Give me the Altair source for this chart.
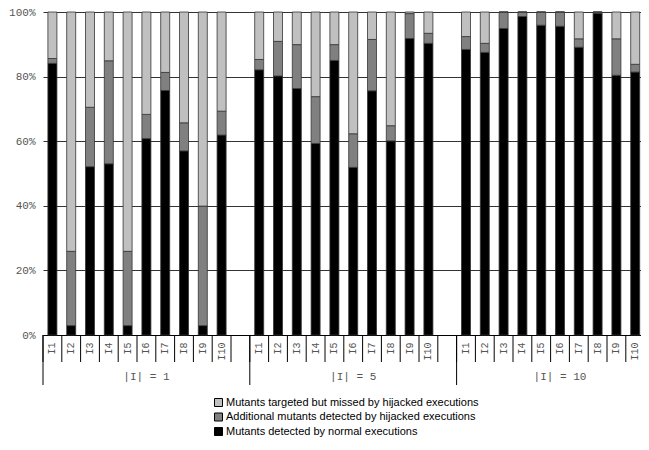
import altair as alt
import pandas as pd

groups = ["1", "5", "10"]
items = ["I1", "I2", "I3", "I4", "I5", "I6", "I7", "I8", "I9", "I10"]
series = [
    "Mutants targeted but missed by hijacked executions",
    "Additional mutants detected by hijacked executions",
    "Mutants detected by normal executions",
]
colors = ["#c0c0c0", "#808080", "#000000"]

# percentages per group: normal / additional / missed
normal_g1 = [84.1, 2.9, 52.1, 53.0, 2.9, 60.8, 75.7, 57.0, 2.9, 61.9]
additional_g1 = [1.5, 23.0, 18.4, 31.9, 23.0, 7.5, 5.6, 8.7, 37.0, 7.4]
missed_g1 = [14.4, 74.1, 29.5, 15.1, 74.1, 31.7, 18.7, 34.3, 60.1, 30.7]

normal_g5 = [82.1, 80.2, 76.3, 59.3, 85.0, 51.9, 75.6, 60.1, 91.8, 90.3]
additional_g5 = [3.2, 10.7, 13.6, 14.5, 4.9, 10.4, 15.9, 4.7, 7.7, 3.1]
missed_g5 = [14.7, 9.1, 10.1, 26.2, 10.1, 37.7, 8.5, 35.2, 0.5, 6.6]

normal_g10 = [88.4, 87.5, 94.9, 98.6, 95.9, 95.6, 89.1, 99.6, 80.4, 81.4]
additional_g10 = [4.0, 2.8, 5.1, 1.4, 4.1, 4.4, 2.6, 0.4, 11.3, 2.4]
missed_g10 = [7.6, 9.7, 0.0, 0.0, 0.0, 0.0, 8.3, 0.0, 8.3, 16.2]

group_data = {
    "1": (normal_g1, additional_g1, missed_g1),
    "5": (normal_g5, additional_g5, missed_g5),
    "10": (normal_g10, additional_g10, missed_g10),
}

# slot ids (with one blank spacer slot between groups)
slots = []
for gi, g in enumerate(groups):
    for it in items:
        slots.append(f"{g}|{it}")
    if gi < len(groups) - 1:
        slots.append(f"{g}|")

rows = []
for g in groups:
    normal, additional, missed = group_data[g]
    for i, it in enumerate(items):
        sid = f"{g}|{it}"
        rows.append({"slot": sid, "series": series[2], "value": normal[i], "ord": 0})
        rows.append({"slot": sid, "series": series[1], "value": additional[i], "ord": 1})
        rows.append({"slot": sid, "series": series[0], "value": missed[i], "ord": 2})
df = pd.DataFrame(rows)

slots_df = pd.DataFrame({"slot": slots})
starts_df = pd.DataFrame({"slot": [f"{g}|I1" for g in groups]})
labels_df = pd.DataFrame({"slot": [f"{g}|I6" for g in groups],
                          "label": [f"|I| = {g}" for g in groups]})

H = 323
W = 598
MONO = "Liberation Mono"

xscale = alt.Scale(domain=slots, range=[0, 601.6], paddingInner=0, paddingOuter=0)
xaxis = alt.Axis(title=None, labelAngle=270, ticks=False, tickSize=0,
                 labelPadding=7, labelFont=MONO, labelFontSize=10,
                 labelColor="#555555", domainColor="#000000", labelOverlap=False,
                 labelExpr="split(datum.label, '|')[1]", grid=False)

bars = alt.Chart(df).mark_bar(width=9, stroke="#333333", strokeWidth=0.8).encode(
    x=alt.X("slot:N", scale=xscale, sort=slots, axis=xaxis),
    y=alt.Y("value:Q", stack="normalize",
            scale=alt.Scale(domain=[0, 1], nice=False),
            axis=alt.Axis(title=None, values=[0, 0.2, 0.4, 0.6, 0.8, 1.0], format=".0%",
                          domain=False, ticks=False, labelPadding=8,
                          labelFont=MONO, labelFontSize=11, labelColor="#555555",
                          grid=True, gridColor="#333333", gridWidth=1)),
    color=alt.Color("series:N", scale=alt.Scale(domain=series, range=colors),
                    legend=alt.Legend(title=None, orient="none", legendX=170, legendY=385,
                                      symbolType="square", symbolSize=64,
                                      symbolStrokeColor="#000000", symbolStrokeWidth=1,
                                      labelFont="Liberation Sans", labelFontSize=11,
                                      labelColor="#000000", labelLimit=500,
                                      labelOffset=2, rowPadding=1.5)),
    order=alt.Order("ord:Q", sort="ascending"),
)

short_sep = alt.Chart(slots_df).mark_rule(color="#000000", strokeWidth=1).encode(
    x=alt.X("slot:N", scale=xscale, sort=slots, bandPosition=0, axis=xaxis),
    y=alt.value(H),
    y2=alt.value(H + 27),
)

long_sep = alt.Chart(starts_df).mark_rule(color="#000000", strokeWidth=1).encode(
    x=alt.X("slot:N", scale=xscale, sort=slots, bandPosition=0, axis=xaxis),
    y=alt.value(H),
    y2=alt.value(H + 50),
)

group_text = alt.Chart(labels_df).mark_text(font=MONO, fontSize=11, color="#555555",
                                             baseline="middle", align="center").encode(
    x=alt.X("slot:N", scale=xscale, sort=slots, axis=xaxis),
    y=alt.value(H + 42),
    text="label:N",
)

chart = alt.layer(bars, short_sep, long_sep, group_text).properties(
    width=W, height=H,
    autosize=alt.AutoSizeParams(type="none"),
    padding={"left": 35, "top": 4, "right": 0, "bottom": 103},
).configure_view(stroke="transparent")

chart.save("out.html", embed_options={"renderer": "svg", "actions": False})
